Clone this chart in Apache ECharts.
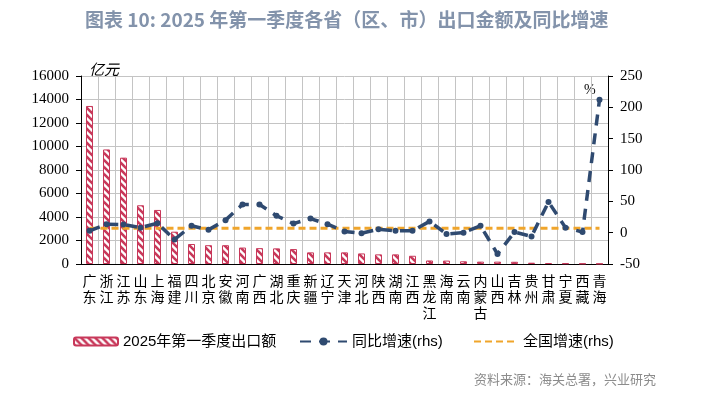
<!DOCTYPE html>
<html>
<head>
<meta charset="utf-8">
<script src="https://cdn.jsdelivr.net/npm/echarts@6/dist/echarts.min.js"></script>
<style>
  html, body { margin: 0; padding: 0; background: #fff; }
  #chart { width: 702px; height: 399px; }
</style>
</head>
<body>
<div id="chart"></div>
<script>
// 各省（区、市）
var provinces = ['广东','浙江','江苏','山东','上海','福建','四川','北京','安徽','河南','广西','湖北','重庆','新疆','辽宁','天津','河北','陕西','湖南','江西','黑龙江','海南','云南','内蒙古','山西','吉林','贵州','甘肃','宁夏','西藏','青海'];
// 2025年第一季度出口额（亿元）
var exportValues = [13450, 9750, 9050, 5000, 4600, 2750, 1700, 1600, 1600, 1400, 1350, 1330, 1270, 990, 990, 990, 900, 820, 820, 700, 300, 290, 230, 200, 200, 190, 110, 80, 60, 40, 30];
// 同比增速（%）
var growthRates = [3, 13.5, 13, 8, 15, -11, 11, 4.5, 20, 45, 45, 27, 14.5, 22.5, 13.5, 2, -1, 5.5, 3, 3, 18, -2, 0, 11, -34, 1, -6, 49, 8, 1, 212];
// 全国增速（%）
var nationalRate = 6.9;
var nationalRates = provinces.map(function () { return nationalRate; });
// 坐标轴刻度
var leftTicks = { min: 0, max: 16000, interval: 2000 };
var rightTicks = { min: -50, max: 250, interval: 50 };

var barRed = '#C8385A';
var navy = '#2F4A70';
var orange = '#F0A52B';

// 斜线填充
function stripePattern() {
  var c = document.createElement('canvas');
  c.width = 7; c.height = 7;
  var ctx = c.getContext('2d');
  ctx.fillStyle = '#fff';
  ctx.fillRect(0, 0, 7, 7);
  ctx.strokeStyle = barRed;
  ctx.lineWidth = 2.6;
  [-7, 0, 7].forEach(function (k) {
    ctx.beginPath();
    ctx.moveTo(k - 1, -1);
    ctx.lineTo(k + 8, 8);
    ctx.stroke();
  });
  return c;
}

var chart = echarts.init(document.getElementById('chart'));
var cjk = '"Noto Sans CJK SC", sans-serif';
var legendText = { fontSize: 15, color: '#000', fontFamily: '"Liberation Sans", ' + cjk };

var option = {
  animation: false,
  title: {
    text: '图表 10: 2025 年第一季度各省（区、市）出口金额及同比增速',
    left: 80,
    top: 5,
    textStyle: { fontSize: 19, fontWeight: 'bold', color: '#8393AB', fontFamily: cjk }
  },
  grid: { left: 81, right: 94, top: 76, bottom: 135 },
  legend: [
    {
      data: ['2025年第一季度出口额'], left: 68, top: 329,
      itemWidth: 44, itemHeight: 8,
      textStyle: legendText
    },
    {
      data: ['同比增速(rhs)'], left: 294, top: 329,
      itemWidth: 47, itemHeight: 10,
      textStyle: legendText
    },
    {
      data: ['全国增速(rhs)'], left: 468, top: 329,
      itemWidth: 44, itemHeight: 10,
      itemStyle: { opacity: 0 },
      textStyle: legendText
    }
  ],
  xAxis: {
    type: 'category',
    data: provinces,
    axisLine: { lineStyle: { color: '#000' } },
    axisTick: { interval: 0, length: 5, lineStyle: { color: '#000' } },
    splitLine: { show: true, interval: 0, lineStyle: { color: '#C4C4C4' } },
    axisLabel: {
      interval: 0, margin: 9, color: '#000', fontSize: 14, lineHeight: 16,
      fontFamily: cjk,
      formatter: function (v) { return v.split('').join('\n'); }
    }
  },
  yAxis: [
    {
      type: 'value', min: leftTicks.min, max: leftTicks.max, interval: leftTicks.interval,
      axisLine: { show: true, lineStyle: { color: '#000' } },
      axisTick: { show: true, length: 5, lineStyle: { color: '#000' } },
      splitLine: { lineStyle: { color: '#C4C4C4' } },
      axisLabel: {
        color: '#000', fontSize: 15, margin: 12, fontFamily: '"Liberation Serif", serif',
        formatter: function (v) { return String(v); }
      }
    },
    {
      type: 'value', min: rightTicks.min, max: rightTicks.max, interval: rightTicks.interval,
      axisLine: { show: true, lineStyle: { color: '#000' } },
      axisTick: { show: true, length: 5, lineStyle: { color: '#000' } },
      splitLine: { show: false },
      axisLabel: { color: '#000', fontSize: 15, margin: 12, fontFamily: '"Liberation Serif", serif' }
    }
  ],
  series: [
    {
      name: '2025年第一季度出口额',
      type: 'bar',
      data: exportValues,
      barWidth: 7,
      itemStyle: {
        color: { image: stripePattern(), repeat: 'repeat' },
        borderColor: barRed,
        borderWidth: 1
      }
    },
    {
      name: '全国增速(rhs)',
      type: 'line',
      yAxisIndex: 1,
      data: nationalRates,
      symbol: 'none',
      z: 3,
      lineStyle: { color: orange, width: 3, type: [7, 4] },
      itemStyle: { color: orange }
    },
    {
      name: '同比增速(rhs)',
      type: 'line',
      yAxisIndex: 1,
      data: growthRates,
      symbol: 'circle',
      symbolSize: 6,
      z: 4,
      lineStyle: { color: navy, width: 3.5, type: [11, 8] },
      itemStyle: { color: navy }
    }
  ],
  graphic: [
    { type: 'text', left: 89, top: 62, style: { text: '亿元', fill: '#000', font: 'italic 15px "Noto Sans CJK SC"' } },
    { type: 'text', left: 584, top: 83, style: { text: '%', fill: '#000', font: '14px "Liberation Serif"' } },
    { type: 'text', left: 474, top: 373, style: { text: '资料来源：海关总署，兴业研究', fill: '#8C8C8C', font: '13px "Noto Sans CJK SC"' } }
  ]
};

chart.setOption(option);
</script>
</body>
</html>
